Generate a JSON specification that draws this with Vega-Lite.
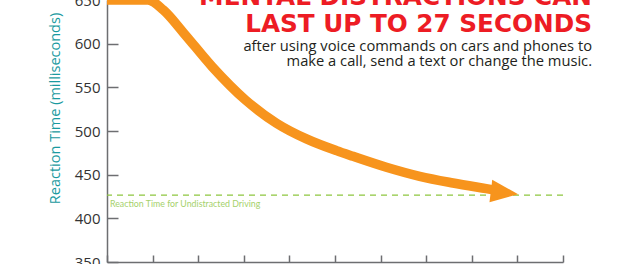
{
  "$schema": "https://vega.github.io/schema/vega-lite/v6.json",
  "width": 456,
  "height": 262,
  "autosize": {"type": "none"},
  "padding": {"left": 107, "top": 0, "right": 57, "bottom": 2},
  "background": "white",
  "title": {
    "text": ["MENTAL DISTRACTIONS CAN", "LAST UP TO 27 SECONDS"],
    "subtitle": ["after using voice commands on cars and phones to", "make a call, send a text or change the music."],
    "orient": "top",
    "anchor": "end",
    "frame": "group",
    "font": "DejaVu Sans",
    "fontWeight": "bold",
    "fontSize": 24.7,
    "lineHeight": 27,
    "color": "#ed1c24",
    "subtitleFont": "Open Sans",
    "subtitleFontSize": 14.7,
    "subtitleLineHeight": 15.5,
    "subtitleColor": "#231f20",
    "subtitlePadding": 2,
    "offset": 0,
    "dx": 29,
    "dy": 76
  },
  "config": {
    "view": {"stroke": null},
    "axis": {"grid": false}
  },
  "layer": [
    {
      "data": {"values": [{"v": 426.5}]},
      "mark": {"type": "rule", "color": "#8dc63f", "strokeWidth": 1.2, "strokeDash": [6, 5]},
      "encoding": {
        "y": {"field": "v", "type": "quantitative", "scale": {"domain": [350, 650], "nice": false}}
      }
    },
    {
      "data": {"values": [{"t": 0, "v": 426.5, "label": "Reaction Time for Undistracted Driving"}]},
      "mark": {"type": "text", "align": "left", "baseline": "middle", "dx": 3, "dy": 9, "font": "Lato", "fontSize": 8.8, "color": "#a5d16b"},
      "encoding": {
        "x": {"field": "t", "type": "quantitative"},
        "y": {"field": "v", "type": "quantitative"},
        "text": {"field": "label"}
      }
    },
    {
      "data": {"values": [
        {"t": 0, "v": 650},
        {"t": 2.69, "v": 650},
        {"t": 3.7, "v": 638.6},
        {"t": 5.06, "v": 611.9},
        {"t": 6.92, "v": 573.6},
        {"t": 9.11, "v": 535.5},
        {"t": 11.15, "v": 509},
        {"t": 13.12, "v": 491},
        {"t": 15.1, "v": 477.5},
        {"t": 16.19, "v": 471},
        {"t": 18.38, "v": 458.5},
        {"t": 20.57, "v": 448.1},
        {"t": 22.76, "v": 440.5},
        {"t": 24.95, "v": 434},
        {"t": 25.7, "v": 431.8}
      ]},
      "mark": {"type": "line", "color": "#f7941d", "strokeWidth": 9.5, "interpolate": "monotone", "strokeCap": "butt", "strokeJoin": "round"},
      "encoding": {
        "x": {"field": "t", "type": "quantitative", "scale": {"domain": [0, 30], "nice": false},
          "axis": {"values": [0, 3, 6, 9, 12, 15, 18, 21, 24, 27, 30], "labels": false, "title": null, "tickSize": -7, "tickColor": "#6d6e71", "tickWidth": 1.5, "domainColor": "#6d6e71", "domainWidth": 1.5}},
        "y": {"field": "v", "type": "quantitative", "scale": {"domain": [350, 650], "nice": false},
          "axis": {"values": [350, 400, 450, 500, 550, 600, 650], "title": "Reaction Time (milliseconds)", "titleColor": "#1a9aa0", "titleFont": "Open Sans", "titleFontSize": 14.5, "titleFontWeight": "normal", "titleX": -45, "titleY": 108, "titleBaseline": "bottom", "titleAngle": -90, "labelFont": "Open Sans", "labelFontSize": 15, "labelColor": "#333333", "labelPadding": 18, "tickSize": -11, "tickColor": "#6d6e71", "tickWidth": 1.5, "domainColor": "#6d6e71", "domainWidth": 1.5}}
      }
    },
    {
      "data": {"values": [{"t": 27.05, "v": 427.5}]},
      "mark": {"type": "point", "shape": "M0,0 L-2,-0.82 L-2,0.82 Z", "size": 756, "angle": 7, "filled": true, "opacity": 1, "color": "#f7941d", "strokeWidth": 0},
      "encoding": {
        "x": {"field": "t", "type": "quantitative"},
        "y": {"field": "v", "type": "quantitative"}
      }
    }
  ]
}
